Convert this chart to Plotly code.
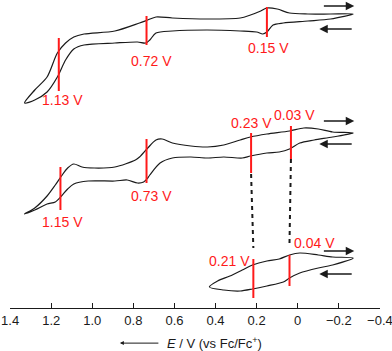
import plotly.graph_objects as go

# potential (V vs Fc/Fc+) and current (arbitrary units, traces stacked)
# (a) 10Ni : upper branch left->right, lower branch right->left
E_a_top = [1.33, 1.28, 1.22, 1.17, 1.13, 1.09, 1.04, 0.89, 0.77, 0.73, 0.69, 0.61, 0.44, 0.28, 0.23, 0.18, 0.15, 0.10, 0.04, -0.05, -0.16, -0.27]
I_a_top = [205, 218, 231, 255, 265, 271, 274, 277, 285, 288, 291, 290, 289, 290, 293, 297, 300, 299, 295, 294, 294, 294]
E_a_bot = [-0.27, -0.16, -0.05, 0.07, 0.12, 0.15, 0.17, 0.20, 0.28, 0.44, 0.61, 0.69, 0.72, 0.74, 0.78, 0.89, 1.04, 1.09, 1.13, 1.17, 1.22, 1.28, 1.33]
I_a_bot = [294, 289, 287, 285, 283, 276, 274, 276, 277, 278, 277, 275, 268, 265, 266, 265, 263, 259, 248, 231, 216, 208, 205]

# (b) 4Ni 2.2 mM
E_b_top = [1.33, 1.28, 1.22, 1.18, 1.15, 1.12, 1.09, 1.05, 0.99, 0.89, 0.79, 0.77, 0.73, 0.69, 0.66, 0.61, 0.52, 0.44, 0.36, 0.28, 0.23, 0.15, 0.04, -0.03, -0.10, -0.17, -0.27]
I_b_top = [94, 100, 112, 123, 132, 140, 144, 141, 140, 141, 148, 151, 160, 168, 169, 165, 162, 161, 163, 168, 171, 174, 177, 180, 179, 176, 175]
E_b_bot = [-0.27, -0.17, -0.08, -0.01, 0.04, 0.09, 0.15, 0.23, 0.27, 0.36, 0.44, 0.52, 0.61, 0.67, 0.72, 0.73, 0.75, 0.78, 0.83, 0.89, 1.02, 1.09, 1.12, 1.15, 1.18, 1.22, 1.28, 1.33]
I_b_bot = [175, 171, 168, 165, 159, 156, 155, 152, 150, 151, 150, 151, 150, 145, 133, 130, 126, 125, 128, 127, 127, 124, 119, 112, 106, 104, 98, 94]

# (c) 4Ni 0.6 mM
E_c_top = [0.43, 0.39, 0.33, 0.27, 0.22, 0.15, 0.09, 0.04, -0.01, -0.10, -0.17, -0.27]
I_c_top = [21, 27, 32, 38, 43, 47, 49, 53, 55, 53, 51, 50]
E_c_bot = [-0.27, -0.17, -0.10, -0.01, 0.04, 0.07, 0.15, 0.22, 0.28, 0.36, 0.43]
I_c_bot = [50, 43, 40, 35, 30, 26, 22, 19, 17, 18, 21]

# half-wave potential markers
peak_E = [1.163, 0.736, 0.150, 1.155, 0.736, 0.227, 0.033, 0.216, 0.040]
peak_lo = [217, 263, 271, 98, 125, 135, 149, 10, 22]
peak_hi = [270, 292, 301, 141, 169, 175, 182, 49, 53]
peak_text = ['1.13 V', '0.72 V', '0.15 V', '1.15 V', '0.73 V', '0.23 V', '0.03 V', '0.21 V', '0.04 V']
label_E = [1.147, 0.714, 0.140, 1.147, 0.710, 0.223, 0.018, 0.330, -0.081]
label_I = [208, 247, 260, 86, 112, 185, 193, 47, 65]

# dashed guides from (b) to (c)
dash_E = [(0.227, 0.216), (0.033, 0.040)]
dash_I = [(134, 60), (149, 65)]

panel_text = ['(a) <b>10Ni</b>', '(b) <b>4Ni</b> (2.2 mM)', '(c) <b>4Ni</b> (0.6 mM)']
panel_I = [300, 183, 62]
arrow_I = [(302, 279), (187, 164), (57, 34)]

tick_vals = [1.4, 1.2, 1.0, 0.8, 0.6, 0.4, 0.2, 0, -0.2, -0.4]
tick_text = ['1.4', '1.2', '1.0', '0.8', '0.6', '0.4', '0.2', '0', '\u22120.2', '\u22120.4']

FONT = 'Liberation Sans, Arial, sans-serif'
RED = '#ff1a1a'
INK = '#1a1a1a'

fig = go.Figure()

for e_top, i_top, e_bot, i_bot in [(E_a_top, I_a_top, E_a_bot, I_a_bot),
                                   (E_b_top, I_b_top, E_b_bot, I_b_bot),
                                   (E_c_top, I_c_top, E_c_bot, I_c_bot)]:
    fig.add_trace(go.Scatter(
        x=e_top + e_bot[1:], y=i_top + i_bot[1:],
        mode='lines', line=dict(color=INK, width=1.2, shape='spline', smoothing=0.8),
        hoverinfo='skip'))

for (e0, e1), (i0, i1) in zip(dash_E, dash_I):
    fig.add_trace(go.Scatter(
        x=[e0, e1], y=[i0, i1], mode='lines',
        line=dict(color=INK, width=2, dash='4px,4px')))

for e, lo, hi in zip(peak_E, peak_lo, peak_hi):
    fig.add_trace(go.Scatter(
        x=[e, e], y=[lo, hi], mode='lines',
        line=dict(color=RED, width=2)))

annotations = []
for t, e, i in zip(peak_text, label_E, label_I):
    annotations.append(dict(x=e, y=i, text=t, showarrow=False, yanchor='middle',
                            font=dict(size=14, color=RED, family=FONT)))

for t, i in zip(panel_text, panel_I):
    annotations.append(dict(x=1.434, y=i, text=t, showarrow=False, xanchor='left',
                            yanchor='middle', font=dict(size=13, color=INK, family=FONT)))

for i_right, i_left in arrow_I:
    annotations.append(dict(x=-0.275, y=i_right, ax=-0.12, ay=i_right, xref='x', yref='y',
                            axref='x', ayref='y', text='', showarrow=True,
                            arrowhead=2, arrowsize=1.3, arrowwidth=1.3, arrowcolor=INK))
    annotations.append(dict(x=-0.105, y=i_left, ax=-0.27, ay=i_left, xref='x', yref='y',
                            axref='x', ayref='y', text='', showarrow=True,
                            arrowhead=2, arrowsize=1.3, arrowwidth=1.3, arrowcolor=INK))

# x axis title with leftward arrow
annotations.append(dict(x=0.297, y=-0.114, ax=40, ay=0, xref='paper', yref='paper',
                        axref='pixel', ayref='pixel', text='', showarrow=True,
                        arrowhead=2, arrowsize=0.8, arrowwidth=1, arrowcolor=INK))
annotations.append(dict(x=0.419, y=-0.114, xref='paper', yref='paper', xanchor='left',
                        yanchor='middle', text='<i>E</i> / V (vs Fc/Fc<sup>+</sup>)',
                        showarrow=False, font=dict(size=13, color=INK, family=FONT)))

fig.update_layout(
    width=392, height=351,
    margin=dict(l=10, r=12, t=0, b=43, autoexpand=False),
    paper_bgcolor='white', plot_bgcolor='white',
    showlegend=False,
    annotations=annotations,
    xaxis=dict(range=[1.4005, -0.4005], tickvals=tick_vals, ticktext=tick_text,
               automargin=False, ticklabeloverflow='allow',
               showline=True, linecolor=INK, linewidth=1,
               ticks='inside', ticklen=5, tickcolor=INK, tickwidth=1,
               showgrid=False, zeroline=False,
               tickfont=dict(size=13, color=INK, family=FONT)),
    yaxis=dict(range=[0, 308], visible=False, showgrid=False, zeroline=False),
)

# drop the default page margin so the figure sits at the window's corner
fig.write_html('out.html', config={'displayModeBar': False},
               post_script="document.body.style.margin='0';")
